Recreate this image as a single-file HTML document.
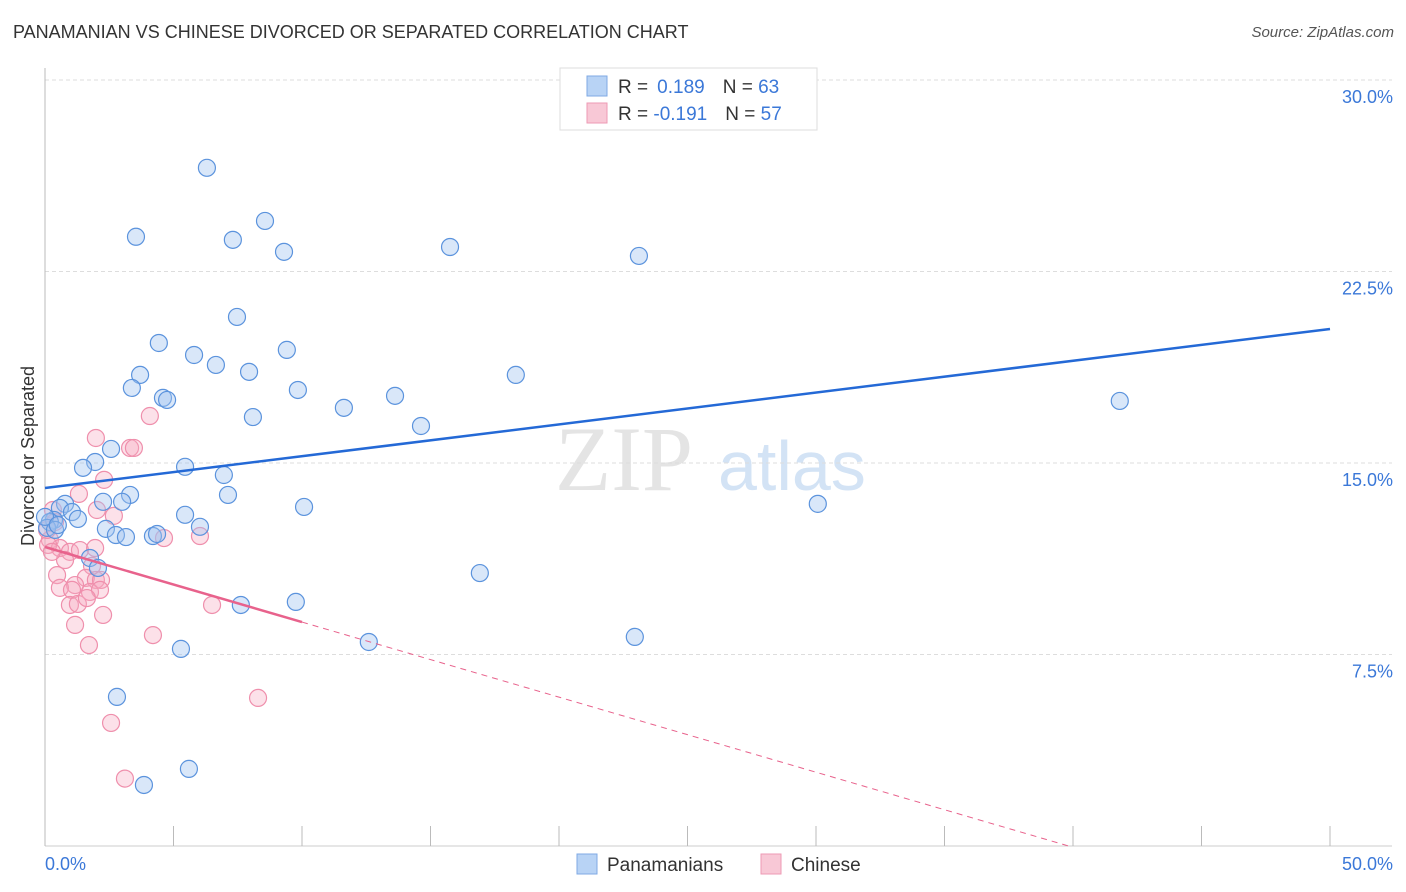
<!DOCTYPE html>
<html><head><meta charset="utf-8">
<style>
body{margin:0;background:#fff;font-family:"Liberation Sans",sans-serif;}
#wrap{position:relative;width:1406px;height:892px;overflow:hidden;}
.title{position:absolute;left:13px;top:22px;font-size:18px;color:#333;}
.source{position:absolute;right:12px;top:24px;font-size:15px;color:#555;font-style:italic;}
</style></head>
<body>
<div id="wrap">
<div class="title">PANAMANIAN VS CHINESE DIVORCED OR SEPARATED CORRELATION CHART</div>
<div class="source">Source: ZipAtlas.com</div>
<svg id="chart" width="1406" height="892" style="position:absolute;left:0;top:0"></svg>
</div>
<script>
const xTicks=[0,5,10,15,20,25,30,35,40,45,50];
const yTicks=[7.5,15,22.5,30];
const yTickLabels=["7.5%","15.0%","22.5%","30.0%"];
const panX=[6.30,8.56,3.54,7.31,9.30,15.76,23.11,7.47,4.43,5.80,9.41,6.65,3.70,7.94,18.32,3.38,9.84,4.59,4.75,13.62,41.82,11.63,8.09,14.63,2.57,1.95,1.48,5.45,6.96,3.31,7.12,2.26,0.78,3.00,30.07,10.08,5.45,0.58,1.05,1.28,0.35,6.03,2.37,2.76,3.15,4.20,4.36,0.19,1.75,2.06,16.92,7.62,9.76,12.60,22.95,5.29,2.80,5.60,3.85,0.08,0.39,0.0,0.5];
const panY=[26.56,24.48,23.86,23.74,23.27,23.46,23.11,20.72,19.70,19.23,19.43,18.84,18.45,18.57,18.45,17.94,17.86,17.55,17.47,17.63,17.43,17.16,16.80,16.45,15.55,15.04,14.81,14.85,14.53,13.75,13.75,13.48,13.40,13.48,13.40,13.28,12.97,13.24,13.08,12.81,12.77,12.50,12.42,12.18,12.10,12.14,12.22,12.69,11.28,10.89,10.69,9.44,9.56,7.99,8.19,7.72,5.84,3.02,2.39,12.46,12.38,12.89,12.57];
const chiX=[1.98,4.08,3.31,3.46,2.30,1.32,2.02,2.68,4.63,6.03,0.31,0.39,0.19,0.58,0.97,1.36,1.95,0.78,1.83,0.47,1.59,1.98,2.18,1.17,0.58,1.05,1.75,2.14,0.97,1.28,1.63,2.26,1.17,1.71,6.50,4.20,8.29,2.57,3.11,0.12,0.27,0.08];
const chiY=[15.98,16.84,15.59,15.59,14.34,13.79,13.16,12.93,12.06,12.14,13.16,12.69,11.99,11.67,11.52,11.59,11.67,11.20,10.97,10.61,10.50,10.42,10.42,10.22,10.11,10.03,9.95,10.03,9.44,9.48,9.71,9.05,8.66,7.87,9.44,8.26,5.80,4.82,2.64,11.79,11.52,12.38];
const panLine=[14.02,0.1246];
const chiLine=[11.71,-0.294];

const svg=document.getElementById('chart');
const NS='http://www.w3.org/2000/svg';
const X=v=>45+v/50*1285;
const Y=v=>846-v/30*766;
function el(t,a,p){const e=document.createElementNS(NS,t);for(const k in a)e.setAttribute(k,a[k]);(p||svg).appendChild(e);return e;}
// watermark
let wm=el('text',{x:555,y:490,'font-size':92,fill:'#e4e4e4','font-family':'Liberation Serif'});wm.textContent='ZIP';


let wm2=el('text',{x:718,y:490,'font-size':70,fill:'#d3e3f5'});wm2.textContent='atlas';


// gridlines
yTicks.forEach((t,i)=>{
 const g=el('line',{x1:45,x2:1392,y1:Y(t),y2:Y(t),stroke:'#ddd','stroke-dasharray':'4,3'});
 
 
 const l=el('text',{x:1393,y:Y(t)+23,'text-anchor':'end','font-size':18,fill:'#3b78d8'});l.textContent=yTickLabels[i];
 
 
});
// axes
let ax=el('line',{x1:45,x2:45,y1:68,y2:846,stroke:'#bbb'});


let bx=el('line',{x1:45,x2:1392,y1:846,y2:846,stroke:'#ccc'});


xTicks.forEach(t=>{
 const k=el('line',{x1:X(t),x2:X(t),y1:826,y2:846,stroke:'#bbb'});
 
 
});
let xl0=el('text',{x:45,y:870,'font-size':18,fill:'#3b78d8'});xl0.textContent='0.0%';


let xl1=el('text',{x:1393,y:870,'text-anchor':'end','font-size':18,fill:'#3b78d8'});xl1.textContent='50.0%';


let yt=el('text',{x:34,y:456,'font-size':18,fill:'#333','text-anchor':'middle',transform:'rotate(-90 34 456)'});yt.textContent='Divorced or Separated';


// points
chiX.forEach((v,i)=>{
 const c=el('circle',{cx:X(v),cy:Y(chiY[i]),r:8.5,fill:'rgba(246,170,192,0.35)',stroke:'#ef8fac','stroke-width':1.2});
 
 
});
panX.forEach((v,i)=>{
 const c=el('circle',{cx:X(v),cy:Y(panY[i]),r:8.5,fill:'rgba(160,196,240,0.4)',stroke:'#5b93dd','stroke-width':1.2});
 
 
});
// trend lines
let tl=el('line',{x1:X(0),y1:Y(panLine[0]),x2:X(50),y2:Y(panLine[0]+panLine[1]*50),stroke:'#2469d6','stroke-width':2.5});


let tc=el('line',{x1:X(0),y1:Y(chiLine[0]),x2:X(10),y2:Y(chiLine[0]+chiLine[1]*10),stroke:'#e8628c','stroke-width':2.5});


const xe=-chiLine[0]/chiLine[1];
let td=el('line',{x1:X(10),y1:Y(chiLine[0]+chiLine[1]*10),x2:X(xe),y2:Y(0),stroke:'#e8628c','stroke-width':1,'stroke-dasharray':'6,5'});


// legend box
let lb=el('rect',{x:560,y:68,width:257,height:62,fill:'#fff',stroke:'#ddd'});


[[ '#b8d3f5','#7fa9e4','0.189','63',86],['#f8c8d6','#ee9ab4','-0.191','57',113]].forEach(r=>{
 const s=el('rect',{x:587,y:r[4]-10,width:20,height:20,fill:r[0],stroke:r[1]});
 
 
 const t=el('text',{x:618,y:r[4]+7,'font-size':19,fill:'#333'});
 t.innerHTML='R = <tspan fill="#3b78d8">'+(r[2][0]=='-'?'':'\u2009')+r[2]+'</tspan><tspan dx="18">N = </tspan><tspan fill="#3b78d8">'+r[3]+'</tspan>';
 
 
});
// bottom legend
[['#b8d3f5','#7fa9e4','Panamanians',577],['#f8c8d6','#ee9ab4','Chinese',761]].forEach(r=>{
 const s=el('rect',{x:r[3],y:854,width:20,height:20,fill:r[0],stroke:r[1]});
 
 
 const t=el('text',{x:r[3]+30,y:871,'font-size':19,fill:'#333'});t.textContent=r[2];
 
 
});
</script>
</body></html>
